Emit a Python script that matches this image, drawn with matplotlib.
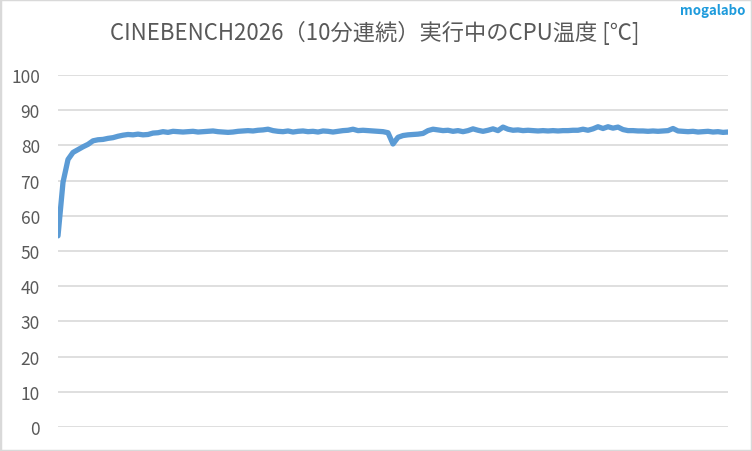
import matplotlib
matplotlib.use('Agg')
import matplotlib.pyplot as plt
from matplotlib.patches import Rectangle

plt.rcParams['font.family'] = ['Noto Sans CJK JP', 'DejaVu Sans']

title = 'CINEBENCH2026（10分連続）実行中のCPU温度 [℃]'
y_ticks = [0, 10, 20, 30, 40, 50, 60, 70, 80, 90, 100]

# CPU温度 (サンプル毎、約4.5秒間隔)
temps = [
    54.3, 69.5, 76.0, 78.0, 78.8, 79.6, 80.3, 81.3, 81.6, 81.7,
    82.0, 82.2, 82.6, 82.9, 83.1, 83.0, 83.2, 83.0, 83.1, 83.5,
    83.6, 83.9, 83.7, 84.0, 83.9, 83.8, 83.9, 84.0, 83.8, 83.9,
    84.0, 84.1, 83.9, 83.8, 83.7, 83.8, 84.0, 84.1, 84.2, 84.1,
    84.3, 84.4, 84.6, 84.2, 84.0, 83.9, 84.1, 83.8, 84.0, 84.1,
    83.9, 84.0, 83.8, 84.1, 84.0, 83.8, 84.0, 84.2, 84.3, 84.6,
    84.2, 84.3, 84.2, 84.1, 84.0, 83.9, 83.6, 80.4, 82.3, 82.8,
    83.0, 83.1, 83.2, 83.4, 84.2, 84.6, 84.4, 84.2, 84.3, 84.0,
    84.2, 83.9, 84.2, 84.7, 84.3, 84.0, 84.3, 84.7, 84.2, 85.2,
    84.6, 84.3, 84.4, 84.2, 84.3, 84.2, 84.1, 84.2, 84.1, 84.2,
    84.1, 84.2, 84.2, 84.3, 84.3, 84.6, 84.3, 84.7, 85.3, 84.8,
    85.3, 84.9, 85.2, 84.5, 84.2, 84.2, 84.1, 84.1, 84.0, 84.1,
    84.0, 84.1, 84.2, 84.8, 84.1, 84.0, 83.9, 84.0, 83.8, 83.9,
    84.0, 83.8, 83.9, 83.7, 83.8,
]

fig = plt.figure(figsize=(7.52, 4.52), dpi=100)
ax = fig.add_axes([58 / 752, 1 - 428 / 452, 670 / 752, 352 / 452])

ax.plot(range(len(temps)), temps, color='#5B9BD5', linewidth=3.8,
        solid_capstyle='round', solid_joinstyle='round', zorder=3)

ax.set_xlim(0, len(temps) - 1)
ax.set_ylim(0, 100)
ax.set_yticks(y_ticks)
ax.set_xticks([])
ax.grid(axis='y', color='#d9d9d9', linewidth=1.2)
ax.tick_params(axis='y', length=0, pad=13, labelsize=12.5, labelcolor='#595959')
for s in ax.spines.values():
    s.set_visible(False)

fig.text(375 / 752, 1 - 33 / 452, title, ha='center', va='center',
         fontsize=16, color='#595959')
fig.text(745 / 752, 1 - 11 / 452, 'mogalabo', ha='right', va='center',
         fontsize=9.5, fontweight='bold', color='#1E9BDC')

fig.patches.append(Rectangle((0, 0), 1, 1, transform=fig.transFigure,
                             fill=False, edgecolor='#d9d9d9', linewidth=2.5))

plt.savefig('out.png', dpi=100)
